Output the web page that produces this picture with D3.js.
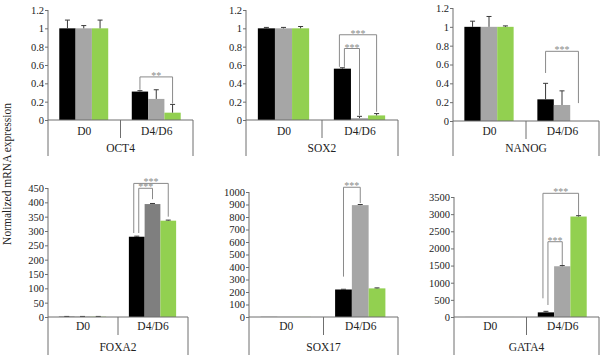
<!DOCTYPE html>
<html><head><meta charset="utf-8">
<script src="https://cdn.jsdelivr.net/npm/d3@7"></script>
<style>
html,body{margin:0;padding:0;background:#fff;}
svg{display:block;}
text{font-family:"Liberation Serif","Times New Roman",serif;}
</style></head>
<body>
<svg id="chart" width="600" height="355"></svg>
<script>
// ---------- DATA ----------
const genes = ["OCT4", "SOX2", "NANOG", "FOXA2", "SOX17", "GATA4"];
const categories = ["D0", "D4/D6"];
// values per gene: [D0, D4/D6]
const blackValues = [[1, 0.31], [1, 0.56], [1, 0.23], [1, 280], [1, 220], [1, 135]];
const grayValues  = [[1, 0.23], [1, 0.02], [1, 0.17], [1, 394], [1, 895], [1, 1480]];
const greenValues = [[1, 0.08], [1, 0.05], [1, 0],    [1, 336], [1, 229], [1, 2930]];
const blackErrors = [[0.09, 0.01], [0.01, 0.01], [0.06, 0.17], [1, 2], [0, 2], [0, 30]];
const grayErrors  = [[0.03, 0.10], [0.01, 0.02], [0.11, 0.15], [1, 2], [0, 5], [0, 20]];
const greenErrors = [[0.09, 0.09], [0.02, 0.02], [0.01, 0],    [1, 2], [0, 4], [0, 25]];
const yMax = [1.2, 1.2, 1.2, 450, 1000, 3500];
const tickStep = [0.2, 0.2, 0.2, 50, 100, 500];
// significance brackets (data units): from bar, to bar (0 black,1 gray,2 green), top, left-leg bottom, right-leg bottom
const brackets = [
  [{from: 0, to: 2, top: 0.47, lb: 0.33, rb: 0.18, label: "**"}],
  [{from: 0, to: 2, top: 0.93, lb: 0.58, rb: 0.09, label: "***"},
   {from: 0, to: 1, top: 0.78, lb: 0.58, rb: 0.05, label: "***"}],
  [{from: 0, to: 2, top: 0.74, lb: 0.51, rb: 0.19, label: "***"}],
  [{from: 0, to: 2, top: 466, lb: 293, rb: 350, label: "***"},
   {from: 0, to: 1, top: 449, lb: 293, rb: 411, label: "***"}],
  [{from: 0, to: 1, top: 1038, lb: 323, rb: 912, label: "***"}],
  [{from: 0, to: 2, top: 3608, lb: 545, rb: 2975, label: "***"},
   {from: 0, to: 1, top: 2196, lb: 350, rb: 1517, label: "***"}]
];
const yLabel = "Normalized mRNA expression";

// ---------- LAYOUT ----------
const panels = [
  {x0: 48,  x1: 193, yTop: 10,  yBase: 120, bottom: 156, catY: 135, geneY: 152},
  {x0: 246, x1: 398, yTop: 10,  yBase: 120, bottom: 156, catY: 135, geneY: 152},
  {x0: 453, x1: 599, yTop: 8,   yBase: 121, bottom: 156, catY: 135, geneY: 152},
  {x0: 48,  x1: 188, yTop: 188, yBase: 317, bottom: 355, catY: 330, geneY: 351},
  {x0: 249, x1: 398, yTop: 192, yBase: 317, bottom: 355, catY: 330, geneY: 351},
  {x0: 454, x1: 599, yTop: 197, yBase: 317, bottom: 355, catY: 330, geneY: 351}
];
const axisColor = "#6f6f6f";
const textColor = "#222";
const bracketColor = "#8a8a8a";

const svg = d3.select("#chart");

genes.forEach((gene, gi) => {
  const p = panels[gi];
  const g = svg.append("g");
  const colors = ["#000000", gi === 3 ? "#7f7f7f" : "#a6a6a6", "#92d050"];
  const vals = [blackValues[gi], grayValues[gi], greenValues[gi]];
  const errs = [blackErrors[gi], grayErrors[gi], greenErrors[gi]];

  const y = d3.scaleLinear().domain([0, yMax[gi]]).range([p.yBase, p.yTop]);
  const x = d3.scaleBand().domain(categories).range([p.x0, p.x1]).padding(0);
  const bw = x.bandwidth() * 0.225;
  const xs = d3.scaleBand().domain([0, 1, 2]).range([0, bw * 3]).padding(0);
  const barX = (ci, si) => x(categories[ci]) + x.bandwidth() / 2 - bw * 1.5 - 0.5 + xs(si);

  // bars
  vals.forEach((sv, si) => {
    g.selectAll(null).data(sv).enter().append("rect")
      .attr("x", (d, ci) => barX(ci, si))
      .attr("y", d => y(d))
      .attr("width", xs.bandwidth())
      .attr("height", d => p.yBase - y(d))
      .attr("fill", colors[si]);
  });
  // error bars
  vals.forEach((sv, si) => {
    sv.forEach((v, ci) => {
      const e = errs[si][ci];
      if (!e || v <= 0) return;
      const cx = barX(ci, si) + xs.bandwidth() / 2;
      const eg = g.append("g").attr("stroke", "#3a3a3a").attr("stroke-width", 1);
      eg.append("line").attr("x1", cx).attr("x2", cx).attr("y1", y(v)).attr("y2", y(v + e));
      eg.append("line").attr("x1", cx - 2.5).attr("x2", cx + 2.5).attr("y1", y(v + e)).attr("y2", y(v + e));
    });
  });

  // y axis
  const ticks = d3.range(0, yMax[gi] + tickStep[gi] / 2, tickStep[gi]).map(t => +t.toFixed(4));
  const yAxis = d3.axisLeft(y).tickValues(ticks).tickSize(3).tickSizeOuter(0).tickPadding(1)
    .tickFormat(d => tickStep[gi] < 1 ? String(+d.toFixed(1)) : String(d));
  const ag = g.append("g").attr("transform", `translate(${p.x0},0)`).call(yAxis);
  ag.select(".domain").remove();
  ag.selectAll(".tick line").attr("stroke", axisColor);
  ag.selectAll(".tick text").attr("fill", textColor).style("font-size", "10.5px")
    .style("font-family", '"Liberation Serif","Times New Roman",serif');
  // y axis line extended down
  g.append("line").attr("x1", p.x0).attr("x2", p.x0).attr("y1", p.yTop).attr("y2", p.bottom)
    .attr("stroke", axisColor).attr("stroke-width", 1);
  // baseline
  g.append("line").attr("x1", p.x0).attr("x2", p.x1).attr("y1", p.yBase).attr("y2", p.yBase)
    .attr("stroke", axisColor).attr("stroke-width", 1);
  // divider between categories
  const divX = x(categories[1]);
  g.append("line").attr("x1", divX).attr("x2", divX).attr("y1", p.yBase).attr("y2", p.yBase + 18)
    .attr("stroke", axisColor).attr("stroke-width", 1);
  // right end
  g.append("line").attr("x1", p.x1).attr("x2", p.x1).attr("y1", p.yBase).attr("y2", p.bottom)
    .attr("stroke", axisColor).attr("stroke-width", 1);
  // category labels
  g.selectAll(null).data(categories).enter().append("text")
    .attr("x", d => x(d) + x.bandwidth() / 2)
    .attr("y", p.catY)
    .attr("text-anchor", "middle")
    .attr("fill", textColor)
    .style("font-size", "11.5px")
    .text(d => d);
  // gene label
  g.append("text").attr("x", (p.x0 + p.x1) / 2).attr("y", p.geneY)
    .attr("text-anchor", "middle").attr("fill", textColor).style("font-size", "11.5px").text(gene);

  // brackets
  const br = brackets[gi];
  br.forEach((b, bi) => {
    const shared = br.filter(o => o.from === b.from).length > 1;
    const isOuter = br.filter(o => o.from === b.from && o.top > b.top).length === 0;
    let lx = barX(1, b.from) + xs.bandwidth() / 2;
    if (shared) lx += isOuter ? -3 : 2;
    const rx = barX(1, b.to) + xs.bandwidth() / 2;
    const bg = g.append("g").attr("stroke", bracketColor).attr("stroke-width", 1).attr("fill", "none");
    bg.append("path").attr("d", `M${lx},${y(b.lb)}V${y(b.top)}H${rx}V${y(b.rb)}`);
    g.append("text").attr("x", (lx + rx) / 2).attr("y", y(b.top) + 2)
      .attr("text-anchor", "middle").attr("fill", bracketColor)
      .style("font-size", "10px").text(b.label);
  });
});

// y label
svg.append("text")
  .attr("transform", "translate(11,174) rotate(-90)")
  .attr("text-anchor", "middle")
  .attr("fill", textColor)
  .style("font-size", "11.5px")
  .text(yLabel);
</script>
</body></html>
